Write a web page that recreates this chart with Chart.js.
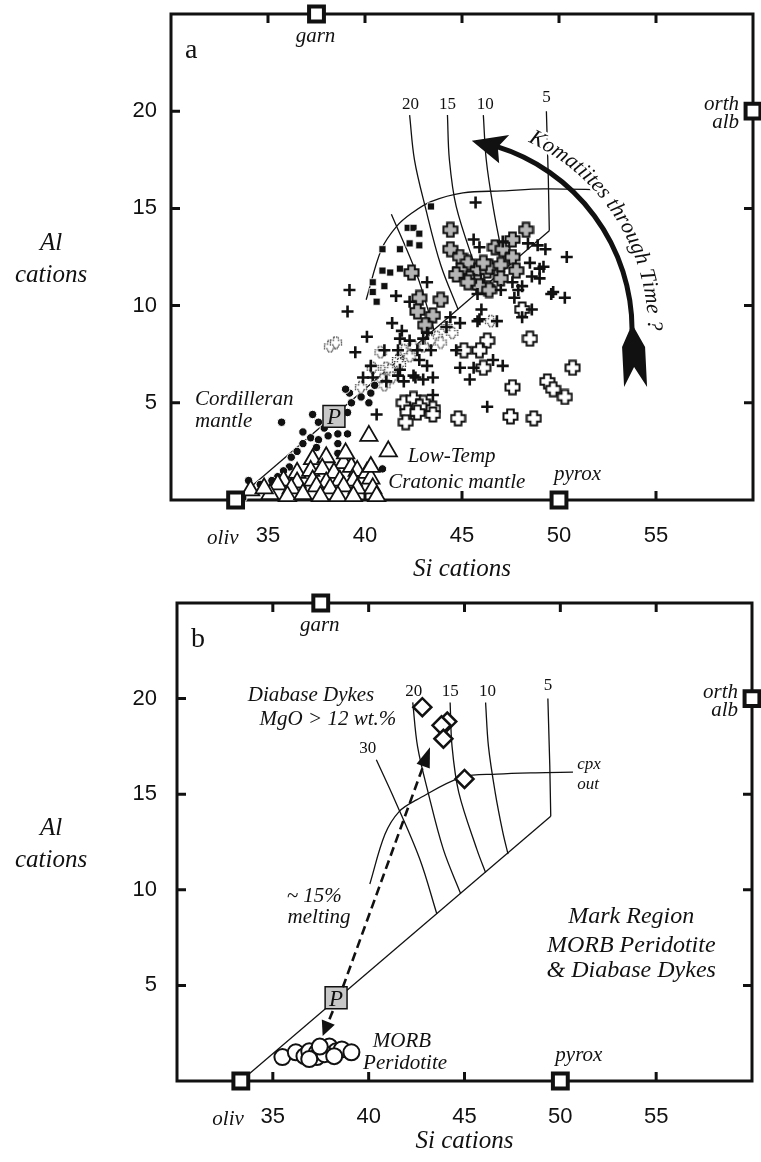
<!DOCTYPE html>
<html>
<head>
<meta charset="utf-8">
<script src="https://cdn.jsdelivr.net/npm/chart.js@4.4.1/dist/chart.umd.min.js"></script>
<style>
body { margin: 0; background: #fff; width: 761px; height: 1162px; overflow: hidden; }
.panel { position: absolute; left: 0; width: 761px; }
</style>
</head>
<body>
<div class="panel" style="top:0;height:590px"><canvas id="chartA" width="761" height="590"></canvas></div>
<div class="panel" style="top:590px;height:572px"><canvas id="chartB" width="761" height="572"></canvas></div>
<script>
const INK = '#111';
const SERIF = '"Liberation Serif", "Times New Roman", serif';
const SANS = '"Liberation Sans", Arial, sans-serif';

// axis ticks
const xTicks = [35, 40, 45, 50, 55];
const yTicks = [5, 10, 15, 20];

// end-member compositions (Si, Al cations)
const endNames = ['garn', 'oliv', 'pyrox', 'orth', 'alb'];
const endPts = [[37.5, 25], [33.33, 0], [50, 0], [60, 20]];

// olivine control line and melting contours (% melt)
const olivLine = [[33.33, 0], [49.5, 13.85]];
const melt30 = [[40.4, 16.8], [41.36, 14.7], [42.67, 11.6], [43.56, 8.73]];
const melt20 = [[42.3, 19.8], [42.55, 17.5], [43.1, 15.1], [43.9, 12.1], [44.8, 9.8]];
const melt15 = [[44.25, 19.8], [44.35, 17.5], [44.7, 15.1], [45.65, 12.1], [46.1, 10.9]];
const melt10 = [[46.1, 19.8], [46.25, 17.5], [46.6, 15.1], [47.0, 13.0], [47.27, 11.87]];
const melt5 = [[49.35, 20.0], [49.45, 16.5], [49.5, 13.85]];
const meltNames = ['30', '20', '15', '10', '5'];
const meltLabelPos = [[39.95, 17.4], [42.35, 20.35], [44.25, 20.35], [46.2, 20.35], [49.35, 20.7]];
const cpxOutA = [[40.06, 10.3], [40.85, 12.9], [41.65, 14.1], [42.4, 14.75], [43.4, 15.35], [45.05, 15.8], [47.1, 15.9], [49.2, 16.0], [52.5, 15.95]];
const cpxOutB = [[40.06, 10.3], [40.85, 12.9], [41.6, 14.1], [42.5, 14.7], [44.9, 15.9], [46.7, 16.05], [48.7, 16.12], [50.66, 16.15]];

// panel a data
const cordilleran = [[35.7, 4.0], [39.2, 5.5], [39.3, 5.0], [39.8, 5.3], [40.3, 5.5], [40.2, 5.0], [37.3, 4.4], [37.6, 4.0],
  [38.1, 4.0], [38.6, 4.3], [39.1, 4.5], [39.1, 3.4], [36.8, 3.5], [37.2, 3.2], [37.6, 3.1], [38.1, 3.3], [38.6, 3.4],
  [36.8, 2.9], [37.5, 2.7], [38.6, 2.9], [38.6, 2.4], [36.2, 2.2], [36.1, 1.7], [35.8, 1.5], [35.5, 1.2], [40.9, 1.6],
  [34.0, 1.0], [34.6, 0.8], [33.2, 0.2], [33.7, 0.1], [39.0, 5.7], [40.5, 5.9], [37.9, 3.7], [36.5, 2.5], [35.2, 1.0]];
const cratonic = [[40.2, 3.3], [41.2, 2.5], [37.3, 2.1], [38.0, 2.2], [38.9, 1.9], [39.3, 1.7], [36.5, 1.4], [37.2, 1.5],
  [37.8, 1.6], [38.4, 1.4], [39.6, 1.5], [40.1, 1.4], [35.8, 1.0], [36.5, 0.9], [37.3, 1.0], [38.0, 0.9], [38.7, 1.0],
  [39.4, 1.0], [40.3, 1.1], [35.5, 0.8], [36.2, 0.6], [37.5, 0.7], [38.2, 0.6], [38.9, 0.7], [39.6, 0.6], [40.4, 0.6],
  [35.1, 0.3], [34.1, 0.5], [34.8, 0.6], [36.0, 0.2], [36.8, 0.3], [37.7, 0.2], [38.6, 0.2], [39.4, 0.2], [40.6, 0.2],
  [40.3, 1.7], [39.0, 2.4]];
const squaresA = [[43.4, 15.1], [42.2, 14.0], [42.5, 14.0], [42.8, 13.7], [42.3, 13.2], [42.8, 13.1], [40.9, 12.9],
  [41.8, 12.9], [41.8, 11.9], [41.3, 11.7], [40.9, 11.8], [40.4, 11.2], [41.0, 11.0], [40.4, 10.7], [40.6, 10.2]];
const plusA = [[45.7, 15.3], [45.6, 13.4], [45.9, 13.0], [47.1, 13.3], [48.4, 13.2], [48.9, 13.1], [49.3, 12.9],
  [50.4, 12.5], [48.5, 12.2], [49.0, 11.9], [48.6, 11.5], [48.1, 11.0], [47.6, 11.2], [49.6, 10.6], [50.3, 10.4],
  [47.7, 10.4], [47.0, 10.8], [45.8, 10.6], [46.0, 9.8], [45.8, 9.2], [46.8, 9.2], [44.9, 9.1], [43.2, 11.2],
  [41.6, 10.5], [39.2, 10.8], [39.1, 9.7], [40.1, 8.4], [41.4, 9.1], [41.9, 8.7], [42.3, 10.2], [39.5, 7.6],
  [41.7, 7.7], [44.4, 9.4], [40.6, 4.4], [41.8, 8.3], [42.3, 8.2], [43.0, 8.3], [43.4, 7.7], [42.8, 7.2],
  [42.6, 6.3], [43.0, 6.2], [43.5, 6.3], [44.7, 7.7], [44.9, 6.8], [40.3, 6.9], [39.9, 6.3], [40.4, 6.3],
  [41.1, 6.1], [41.7, 6.4], [43.2, 8.6], [44.2, 8.9], [45.9, 9.3], [45.6, 6.8], [45.4, 6.2], [46.6, 7.2],
  [47.1, 6.9], [42.7, 7.7], [41.8, 6.7], [42.5, 6.4], [43.2, 6.9], [42.0, 6.1], [46.3, 4.8], [43.5, 5.4],
  [49.0, 11.4], [47.9, 10.8], [48.6, 9.8], [49.7, 10.7], [49.2, 12.0], [48.1, 9.4], [41.0, 7.7]];
const crossGray = [[44.4, 13.9], [44.4, 12.9], [42.4, 11.7], [42.8, 10.4], [43.9, 10.3], [42.7, 9.7], [43.5, 9.5],
  [43.1, 9.0], [44.9, 12.5], [45.3, 12.2], [44.9, 11.8], [45.8, 11.8], [45.4, 11.4], [44.7, 11.6], [45.8, 11.2],
  [46.3, 11.8], [46.4, 12.0], [46.7, 13.0], [47.1, 12.9], [47.0, 12.1], [47.6, 13.4], [47.6, 12.5], [47.8, 11.8],
  [48.3, 13.9], [47.0, 11.4], [46.3, 10.9], [45.9, 11.0], [46.4, 10.8], [45.3, 11.2], [46.1, 12.2]];
const crossWhite = [[42.0, 5.0], [42.5, 5.2], [43.0, 5.0], [43.5, 4.7], [42.2, 4.5], [43.5, 4.4], [42.1, 4.0],
  [42.8, 4.8], [42.7, 4.5], [44.8, 4.2], [47.5, 4.3], [48.7, 4.2], [47.6, 5.8], [49.4, 6.1], [49.7, 5.7],
  [50.3, 5.3], [50.7, 6.8], [48.5, 8.3], [48.1, 9.8], [46.3, 8.2], [45.9, 7.7], [45.1, 7.7], [46.1, 6.8]];
const crossDotted = [[38.2, 7.9], [38.5, 8.1], [40.8, 7.6], [41.1, 6.8], [40.4, 6.8], [41.7, 7.2], [42.0, 7.7],
  [42.3, 7.4], [43.0, 7.9], [43.7, 8.4], [44.2, 8.9], [41.2, 6.3], [40.9, 6.2], [41.3, 6.7], [41.8, 7.0],
  [42.5, 7.9], [43.4, 8.2], [43.9, 8.1], [44.5, 8.6], [41.4, 6.3], [41.0, 5.9], [46.5, 9.2], [39.8, 5.8]];
const pointPA = [[38.4, 4.3]];
const komCenter = [43.87, 8.74];

// panel b data
const morbPerid = [[35.5, 1.25], [36.2, 1.5], [36.65, 1.3], [36.9, 1.55], [37.3, 1.5], [37.6, 1.65], [37.95, 1.8],
  [38.3, 1.55], [38.6, 1.65], [39.1, 1.5], [37.3, 1.25], [36.9, 1.15], [37.7, 1.4], [38.2, 1.3], [37.45, 1.8]];
const diabase = [[42.8, 19.55], [44.1, 18.8], [43.8, 18.6], [43.9, 17.9], [45.0, 15.8]];
const pointPB = [[38.3, 4.35]];
const meltArrow = [[38.65, 4.9], [43.2, 17.45]];
const dropArrow = [[38.13, 3.66], [37.6, 2.35]];

// text notes placed in data units
const notesA = [
  ['Cordilleran', 31.24, 4.89, 'left', 21],
  ['mantle', 31.24, 3.76, 'left', 21],
  ['Low-Temp', 42.2, 1.95, 'left', 21],
  ['Cratonic mantle', 41.2, 0.62, 'left', 21]
];
const notesB = [
  ['Diabase Dykes', 33.69, 19.86, 'left', 21],
  ['MgO > 12 wt.%', 34.31, 18.61, 'left', 21],
  ['cpx', 50.88, 16.3, 'left', 17],
  ['out', 50.88, 15.26, 'left', 17],
  ['~ 15%', 35.72, 9.36, 'left', 21],
  ['melting', 35.77, 8.26, 'left', 21],
  ['MORB', 41.74, 1.78, 'center', 21],
  ['Peridotite', 41.9, 0.63, 'center', 21],
  ['Mark Region', 53.7, 8.26, 'center', 24],
  ['MORB Peridotite', 53.7, 6.74, 'center', 24],
  ['& Diabase Dykes', 53.7, 5.44, 'center', 24]
];

const pts = arr => arr.map(([x, y]) => ({ x, y }));
const it = size => `italic ${size}px ${SERIF}`;
const rm = size => `${size}px ${SERIF}`;

// outlined greek-cross markers
function crossImg(fill, size, arm, dotted) {
  const c = document.createElement('canvas');
  c.width = c.height = size;
  const g = c.getContext('2d');
  const m = size / 2, e = size / 2 - 1.5, a = arm;
  const p = [[m - a, m - e], [m + a, m - e], [m + a, m - a], [m + e, m - a], [m + e, m + a], [m + a, m + a],
    [m + a, m + e], [m - a, m + e], [m - a, m + a], [m - e, m + a], [m - e, m - a], [m - a, m - a]];
  g.beginPath();
  p.forEach(([x, y], i) => i ? g.lineTo(x, y) : g.moveTo(x, y));
  g.closePath();
  if (fill) { g.fillStyle = fill; g.fill(); }
  g.strokeStyle = dotted ? '#333' : INK;
  g.lineWidth = dotted ? 1.3 : 2;
  if (dotted) g.setLineDash([1.3, 1.2]);
  g.stroke();
  return c;
}
const grayCross = crossImg('#b5b5b5', 17, 3.3, false);
const whiteCross = crossImg('#fff', 17, 3.3, false);
const dotCross = crossImg('#fff', 14, 2.4, true);

function lineSet(arr, extra) {
  return Object.assign({ data: pts(arr), showLine: true, borderColor: INK, borderWidth: 1.3,
    pointRadius: 0, tension: 0.35, order: 20 }, extra);
}
function markSet(arr, style) {
  return Object.assign({ data: pts(arr), showLine: false, clip: false }, style);
}
const endSet = () => markSet(endPts, { pointStyle: 'rect', pointRadius: 10.5, backgroundColor: '#fff',
  borderColor: INK, borderWidth: 4, order: 1 });
const pSet = arr => markSet(arr, { pointStyle: 'rect', pointRadius: 15.5, backgroundColor: '#c8c8c8',
  borderColor: INK, borderWidth: 1.5, order: 2 });

function px(chart, x, y) {
  return { x: chart.scales.x.getPixelForValue(x), y: chart.scales.y.getPixelForValue(y) };
}
function text(ctx, s, x, y, font, align) {
  ctx.font = font;
  ctx.textAlign = align || 'left';
  ctx.fillText(s, x, y);
}

function arcText(ctx, str, cx, cy, r, start, font) {
  ctx.font = font;
  ctx.textAlign = 'center';
  ctx.textBaseline = 'alphabetic';
  const chars = [];
  let acc = 0;
  for (const ch of str) {
    const w = ctx.measureText(ch).width;
    chars.push([ch, start + (acc + w / 2) / r]);
    acc += w;
  }
  for (const pass of [0, 1]) {
    chars.forEach(([ch, th]) => {
      ctx.save();
      ctx.translate(cx + r * Math.cos(th), cy + r * Math.sin(th));
      ctx.rotate(th + Math.PI / 2);
      if (pass === 0) { ctx.strokeStyle = '#fff'; ctx.lineWidth = 5; ctx.strokeText(ch, 0, 0); }
      else ctx.fillText(ch, 0, 0);
      ctx.restore();
    });
  }
}

function komatiiteArrow(chart) {
  const ctx = chart.ctx;
  const c = px(chart, komCenter[0], komCenter[1]);
  const r = 192, d = Math.PI / 180;
  ctx.save();
  ctx.strokeStyle = INK;
  ctx.fillStyle = INK;
  ctx.lineWidth = 5;
  ctx.beginPath();
  ctx.arc(c.x, c.y, r, -73 * d, 0);
  ctx.stroke();
  // feathered tail
  const E = { x: c.x + r, y: c.y };
  ctx.beginPath();
  ctx.moveTo(E.x, E.y - 6);
  ctx.lineTo(E.x + 13, E.y + 17);
  ctx.lineTo(E.x + 15, E.y + 57);
  ctx.lineTo(E.x + 2, E.y + 37);
  ctx.lineTo(E.x - 8, E.y + 57);
  ctx.lineTo(E.x - 10, E.y + 17);
  ctx.closePath();
  ctx.fill();
  // head
  const tip = -80.5 * d, base = -70.5 * d, notch = -72.5 * d;
  const P = (a, rr) => [c.x + rr * Math.cos(a), c.y + rr * Math.sin(a)];
  ctx.beginPath();
  ctx.moveTo(...P(tip, r));
  ctx.lineTo(...P(base, r + 15));
  ctx.lineTo(...P(notch, r));
  ctx.lineTo(...P(base, r - 15));
  ctx.closePath();
  ctx.fill();
  arcText(ctx, 'Komatiites through Time ?', c.x, c.y, 208, -65 * d, it(22));
  ctx.restore();
}

function dashedArrow(chart, from, to, head, half) {
  const ctx = chart.ctx;
  const p0 = px(chart, from[0], from[1]), p1 = px(chart, to[0], to[1]);
  const ang = Math.atan2(p1.y - p0.y, p1.x - p0.x);
  const bx = p1.x - head * Math.cos(ang), by = p1.y - head * Math.sin(ang);
  ctx.save();
  ctx.strokeStyle = INK;
  ctx.fillStyle = INK;
  ctx.lineWidth = 2.6;
  ctx.setLineDash([9, 5]);
  ctx.beginPath();
  ctx.moveTo(p0.x, p0.y);
  ctx.lineTo(bx, by);
  ctx.stroke();
  ctx.setLineDash([]);
  ctx.beginPath();
  ctx.moveTo(p1.x, p1.y);
  ctx.lineTo(bx - half * Math.sin(ang), by + half * Math.cos(ang));
  ctx.lineTo(bx + half * Math.sin(ang), by - half * Math.cos(ang));
  ctx.closePath();
  ctx.fill();
  ctx.restore();
}

const decor = {
  id: 'decor',
  beforeDatasetsDraw(chart) {
    const { ctx, chartArea: a } = chart;
    const sx = chart.scales.x, sy = chart.scales.y;
    ctx.save();
    ctx.strokeStyle = INK;
    ctx.lineWidth = 3;
    ctx.strokeRect(a.left, a.top, a.width, a.height);
    ctx.beginPath();
    xTicks.forEach(v => {
      const p = sx.getPixelForValue(v);
      ctx.moveTo(p, a.top); ctx.lineTo(p, a.top + 9);
      ctx.moveTo(p, a.bottom); ctx.lineTo(p, a.bottom - 9);
    });
    yTicks.forEach(v => {
      const p = sy.getPixelForValue(v);
      ctx.moveTo(a.left, p); ctx.lineTo(a.left + 9, p);
      ctx.moveTo(a.right, p); ctx.lineTo(a.right - 9, p);
    });
    ctx.stroke();
    ctx.restore();
  },
  afterDatasetsDraw(chart, args, opts) {
    const { ctx, chartArea: a } = chart;
    const isA = opts.panel === 'a';
    ctx.save();
    ctx.fillStyle = INK;
    ctx.textBaseline = 'alphabetic';
    text(ctx, opts.panel, a.left + 14, a.top + 44, rm(28));
    // y title
    const mid = (a.top + a.bottom) / 2;
    ctx.textBaseline = 'middle';
    text(ctx, 'Al', 51, mid - 14, it(25), 'center');
    text(ctx, 'cations', 51, mid + 18, it(25), 'center');
    ctx.textBaseline = 'alphabetic';
    // end-member labels
    const e = endPts.map(([x, y]) => px(chart, x, y));
    text(ctx, endNames[0], e[0].x - 1, e[0].y + 28, it(21), 'center');
    text(ctx, endNames[1], e[1].x + 3, e[1].y + 44, it(21), 'right');
    text(ctx, endNames[2], e[2].x - 5, e[2].y - 20, it(21), 'left');
    text(ctx, endNames[3], e[3].x - 14, e[3].y - 1, it(21), 'right');
    text(ctx, endNames[4], e[3].x - 14, e[3].y + 17, it(21), 'right');
    // P label
    const pP = isA ? pointPA[0] : pointPB[0];
    const pp = px(chart, pP[0], pP[1]);
    text(ctx, 'P', pp.x, pp.y + 8, it(23), 'center');
    // contour labels
    meltNames.forEach((n, i) => {
      if (isA && i === 0) return;
      const q = px(chart, meltLabelPos[i][0], meltLabelPos[i][1]);
      ctx.textBaseline = 'middle';
      text(ctx, n, q.x, q.y, rm(17), 'center');
    });
    ctx.textBaseline = 'alphabetic';
    (isA ? notesA : notesB).forEach(([s, x, y, al, sz]) => {
      const q = px(chart, x, y);
      text(ctx, s, q.x, q.y, it(sz), al);
    });
    ctx.restore();
    if (isA) komatiiteArrow(chart);
    else {
      dashedArrow(chart, meltArrow[0], meltArrow[1], 20, 7);
      dashedArrow(chart, dropArrow[0], dropArrow[1], 15, 7);
    }
  }
};

function makeOptions(panel, cfg) {
  return {
    responsive: false,
    animation: false,
    events: [],
    layout: { autoPadding: false, padding: { top: cfg.top, right: cfg.right, left: 0, bottom: 0 } },
    plugins: { legend: { display: false }, tooltip: { enabled: false }, decor: { panel } },
    scales: {
      x: {
        type: 'linear', min: 30, max: 60,
        grid: { display: false, drawTicks: false },
        border: { display: false },
        ticks: {
          stepSize: 5, autoSkip: false, maxRotation: 0, padding: 23, color: INK,
          font: { family: SANS, size: 22 },
          callback: v => xTicks.includes(v) ? String(v) : ''
        },
        title: {
          display: true, text: 'Si cations', color: INK,
          font: { family: SERIF, style: 'italic', size: 25 },
          padding: { top: 0, bottom: 6 }
        },
        afterFit: s => { s.height = cfg.xHeight; s.paddingLeft = 0; s.paddingRight = 0; }
      },
      y: {
        type: 'linear', min: 0, max: 25,
        grid: { display: false, drawTicks: false },
        border: { display: false },
        ticks: {
          stepSize: 5, padding: cfg.yPad, color: INK,
          font: { family: SANS, size: 22 },
          callback: v => yTicks.includes(v) ? String(v) : ''
        },
        afterFit: s => { s.width = cfg.left; s.paddingTop = 0; s.paddingBottom = 0; }
      }
    }
  };
}

new Chart(document.getElementById('chartA'), {
  type: 'scatter',
  data: {
    datasets: [
      lineSet(olivLine, { tension: 0 }),
      lineSet(melt30.slice(1)),
      lineSet(melt20),
      lineSet(melt15),
      lineSet(melt10),
      lineSet(melt5, { tension: 0 }),
      lineSet(cpxOutA),
      markSet(crossDotted, { pointStyle: dotCross, pointRadius: 7, order: 14 }),
      markSet(squaresA, { pointStyle: 'rect', pointRadius: 5, backgroundColor: INK, borderColor: '#fff', borderWidth: 0.8, order: 12 }),
      markSet(crossGray, { pointStyle: grayCross, pointRadius: 8, order: 11 }),
      markSet(crossWhite, { pointStyle: whiteCross, pointRadius: 8, order: 11 }),
      markSet(plusA, { pointStyle: 'cross', pointRadius: 6, borderColor: INK, borderWidth: 2.6, order: 10 }),
      markSet(cordilleran, { pointStyle: 'circle', pointRadius: 4.2, backgroundColor: INK, borderColor: '#fff', borderWidth: 1, order: 9 }),
      markSet(cratonic, { pointStyle: 'triangle', pointRadius: 10, backgroundColor: '#fff', borderColor: INK, borderWidth: 1.8, order: 8 }),
      pSet(pointPA),
      endSet()
    ]
  },
  options: makeOptions('a', { top: 14, right: 8, left: 171, xHeight: 90, yPad: 14 }),
  plugins: [decor]
});

new Chart(document.getElementById('chartB'), {
  type: 'scatter',
  data: {
    datasets: [
      lineSet(olivLine, { tension: 0 }),
      lineSet(melt30),
      lineSet(melt20),
      lineSet(melt15),
      lineSet(melt10),
      lineSet(melt5, { tension: 0 }),
      lineSet(cpxOutB),
      markSet(morbPerid, { pointStyle: 'circle', pointRadius: 8, backgroundColor: '#fff', borderColor: INK, borderWidth: 2, order: 9 }),
      markSet(diabase, { pointStyle: 'rectRot', pointRadius: 9, backgroundColor: '#fff', borderColor: INK, borderWidth: 2.5, order: 8 }),
      pSet(pointPB),
      endSet()
    ]
  },
  options: makeOptions('b', { top: 13, right: 9, left: 177, xHeight: 81, yPad: 20 }),
  plugins: [decor]
});
</script>
</body>
</html>
